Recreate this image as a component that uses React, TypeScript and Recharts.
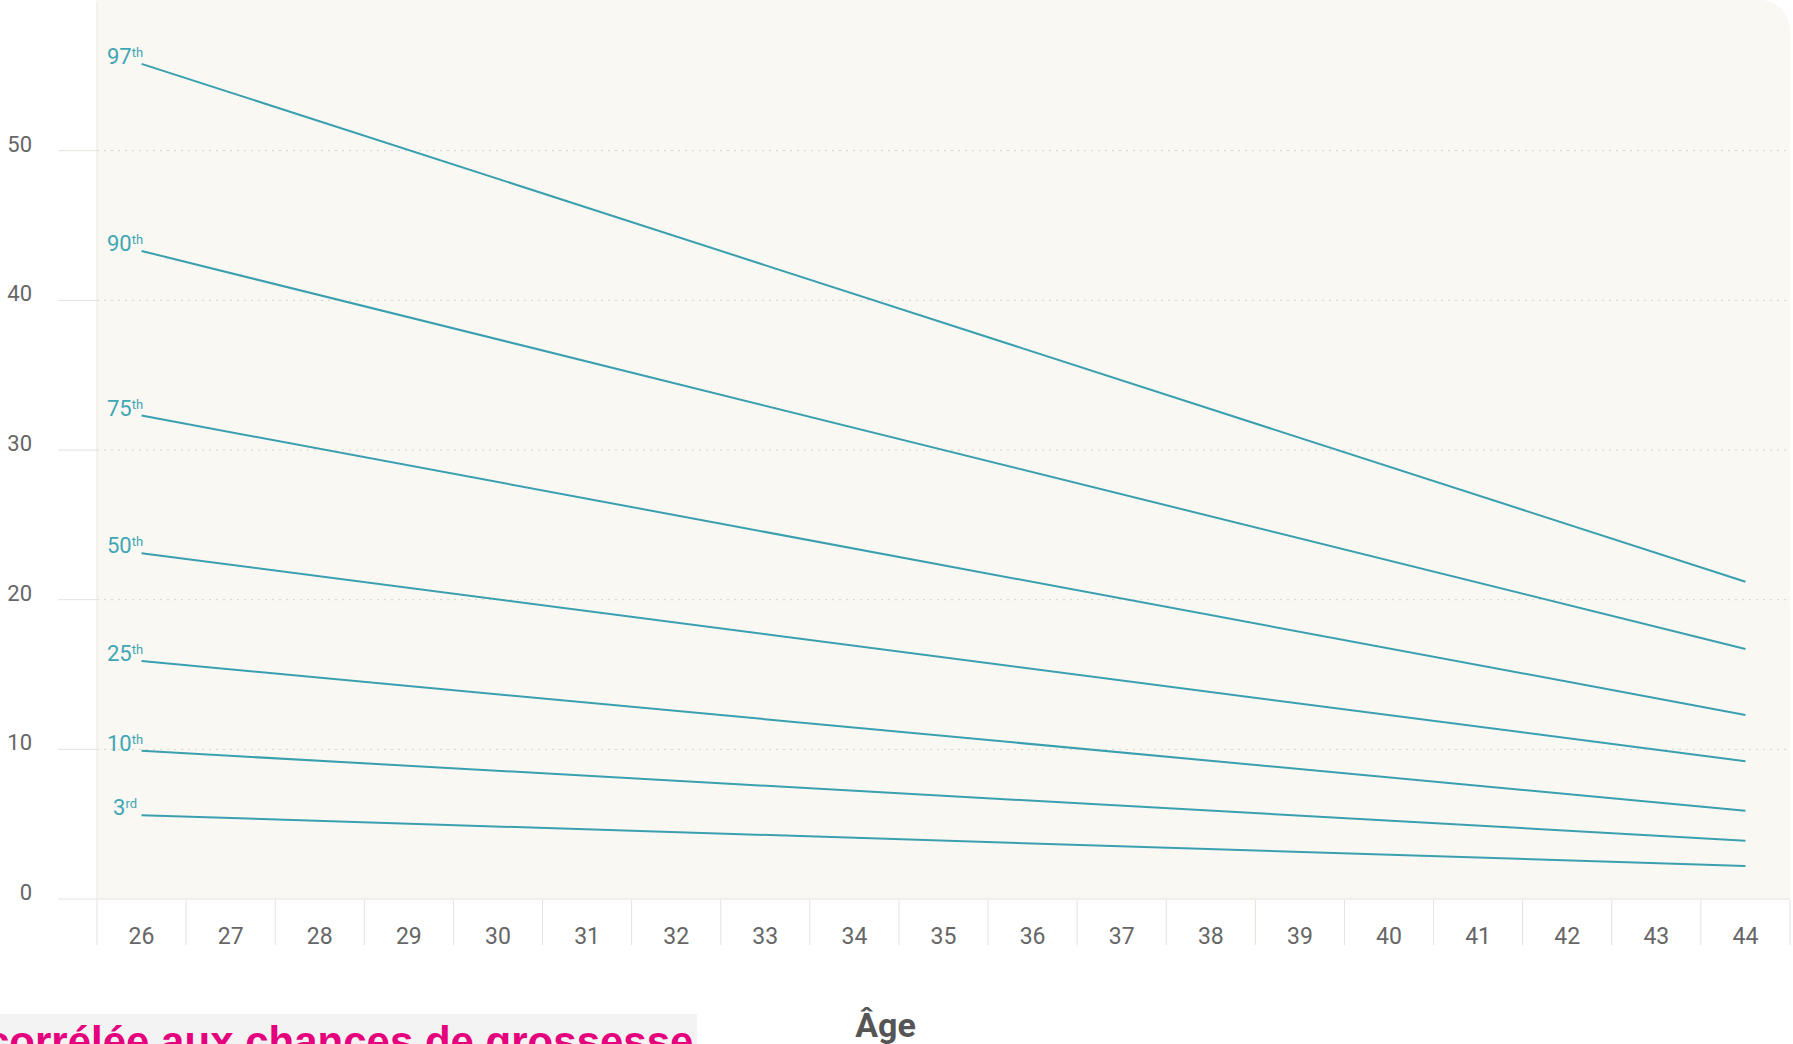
import { CartesianGrid, LabelList, Line, LineChart, XAxis, YAxis } from 'recharts';

const AGES = ['26', '27', '28', '29', '30', '31', '32', '33', '34', '35', '36', '37', '38', '39', '40', '41', '42', '43', '44'];
const VALUE_TICKS = [0, 10, 20, 30, 40, 50];

// Each percentile curve is a straight line from age 26 to age 44.
const PERCENTILES = ['97', '90', '75', '50', '25', '10', '3'];
const SUFFIXES = ['th', 'th', 'th', 'th', 'th', 'th', 'rd'];
const AT_26 = [55.8, 43.3, 32.3, 23.1, 15.9, 9.9, 5.6];
const AT_44 = [21.2, 16.7, 12.3, 9.2, 5.9, 3.9, 2.2];

const data = AGES.map((age, i) => {
  const row: Record<string, string | number | null> = { age };
  PERCENTILES.forEach((p, k) => {
    row['p' + p] = i === 0 ? AT_26[k] : i === AGES.length - 1 ? AT_44[k] : null;
  });
  return row;
});

const WIDTH = 1793;
const HEIGHT = 1044;
const PLOT_LEFT = 97;
const PLOT_RIGHT_GAP = 3;
const PLOT_BOTTOM = 899;
const BAND = (WIDTH - PLOT_LEFT - PLOT_RIGHT_GAP) / AGES.length;

const LINE_COLOR = '#3a9fae';
const LABEL_COLOR = '#3fa6b4';
const TICK_COLOR = '#666';
const RULE_COLOR = '#e6e2dc';

function AgeTick({ x, y, payload, index }: any) {
  const half = BAND / 2;
  return (
    <g>
      <line x1={x - half} x2={x - half} y1={y + 1} y2={y + 46} stroke={RULE_COLOR} />
      {index === AGES.length - 1 && (
        <line x1={x + half} x2={x + half} y1={y + 1} y2={y + 46} stroke={RULE_COLOR} />
      )}
      <text x={x} y={y + 45} textAnchor="middle" fill={TICK_COLOR} fontSize={23} fontFamily="Roboto">
        {payload.value}
      </text>
    </g>
  );
}

function ValueTick({ x, y, payload }: any) {
  return (
    <text x={x} y={y + 1} textAnchor="end" fill={TICK_COLOR} fontSize={22} fontFamily="Roboto">
      {payload.value}
    </text>
  );
}

const percentileLabel = (num: string, suffix: string) => (props: any) => {
  const { x, y, index } = props;
  if (index !== 0 || x == null || y == null) return null;
  return (
    <text x={x - 16.5} y={y} textAnchor="middle" fill={LABEL_COLOR} fontSize={22} fontFamily="Roboto">
      {num}
      <tspan fontSize={13} dy={-7}>
        {suffix}
      </tspan>
    </text>
  );
};

export default function App() {
  return (
    <div
      style={{
        position: 'absolute',
        left: 0,
        top: 0,
        width: WIDTH,
        height: HEIGHT,
        overflow: 'hidden',
        background: '#fff',
      }}
    >
      {/* card background behind the plot area */}
      <div
        style={{
          position: 'absolute',
          left: PLOT_LEFT,
          top: 0,
          width: WIDTH - PLOT_LEFT - PLOT_RIGHT_GAP,
          height: PLOT_BOTTOM,
          background: '#faf8f3',
          borderTopRightRadius: 30,
        }}
      />
      <div style={{ position: 'absolute', left: 0, top: 0 }}>
        <LineChart
          width={WIDTH}
          height={HEIGHT}
          data={data}
          margin={{ top: 1, right: PLOT_RIGHT_GAP, bottom: 0, left: 0 }}
        >
          <CartesianGrid
            vertical={false}
            horizontalValues={[10, 20, 30, 40, 50]}
            stroke="#d6d2cb"
            strokeDasharray="2 5"
          />
          <XAxis
            dataKey="age"
            height={HEIGHT - PLOT_BOTTOM}
            padding={{ left: BAND / 2, right: BAND / 2 }}
            tickSize={0}
            tickMargin={0}
            tickLine={false}
            axisLine={{ stroke: RULE_COLOR }}
            tick={<AgeTick />}
            interval={0}
            label={{
              value: 'Âge',
              position: 'insideBottom',
              offset: 7,
              dx: -58,
              fill: '#555',
              fontSize: 34,
              fontWeight: 700,
              fontFamily: 'Roboto',
            }}
          />
          <YAxis
            width={PLOT_LEFT}
            domain={[0, 60]}
            ticks={VALUE_TICKS}
            tickSize={39}
            tickMargin={26}
            tickLine={{ stroke: RULE_COLOR }}
            axisLine={{ stroke: '#ebe7e0' }}
            tick={<ValueTick />}
          />
          {PERCENTILES.map((p, k) => (
            <Line
              key={p}
              type="linear"
              dataKey={'p' + p}
              stroke={LINE_COLOR}
              strokeWidth={2}
              dot={false}
              activeDot={false}
              connectNulls
              isAnimationActive={false}
            >
              <LabelList dataKey={'p' + p} content={percentileLabel(p, SUFFIXES[k])} />
            </Line>
          ))}
        </LineChart>
      </div>
      {/* fragment of the page text cropped at the bottom left */}
      <div
        style={{
          position: 'absolute',
          left: 0,
          top: 1014,
          width: 697,
          height: 40,
          background: '#f3f3f3',
          overflow: 'hidden',
        }}
      >
        <div
          style={{
            position: 'absolute',
            left: -14,
            top: 7,
            fontFamily: '"Liberation Sans", Arial, sans-serif',
            fontWeight: 700,
            fontSize: 42,
            lineHeight: '42px',
            color: '#e5007d',
            whiteSpace: 'nowrap',
          }}
        >
          corrélée aux chances de grossesse
        </div>
      </div>
    </div>
  );
}
